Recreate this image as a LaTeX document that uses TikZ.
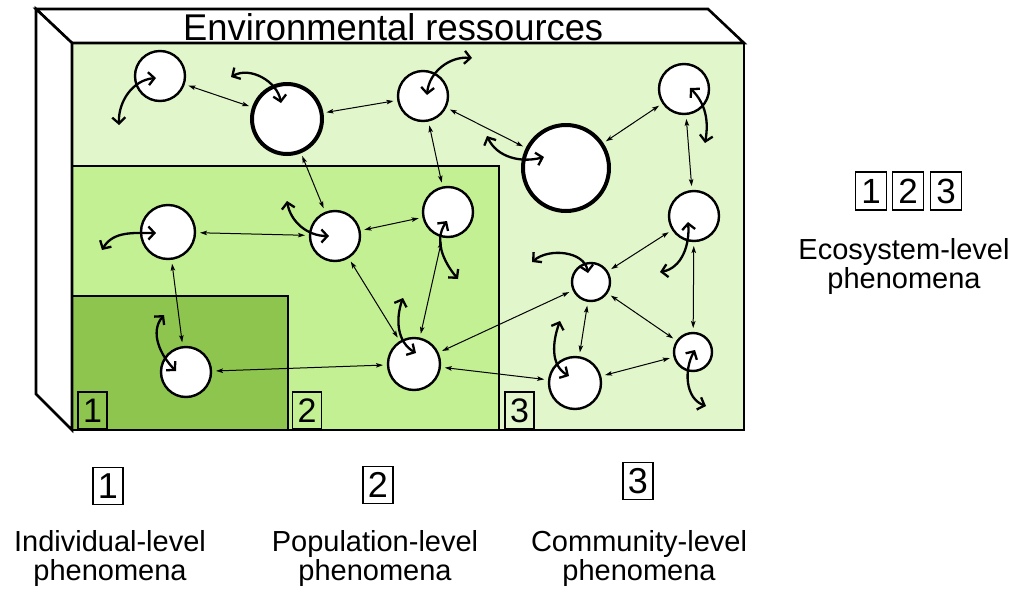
\documentclass[tikz,border=0pt]{standalone}
\usepackage{fontspec}
\setmainfont{Liberation Sans}
\usetikzlibrary{arrows.meta,calc}
\definecolor{gLight}{RGB}{225,246,202}
\definecolor{gMid}{RGB}{196,240,148}
\definecolor{gDark}{RGB}{141,197,79}
\begin{document}
\begin{tikzpicture}[x=1pt,y=-1pt,
  org/.style={circle,draw,fill=white,line width=2.4pt,inner sep=0pt,outer sep=0pt},
  bigorg/.style={org,line width=4pt},
  link/.style={{Stealth[length=7pt,width=4.5pt,inset=1.5pt]}-{Stealth[length=7pt,width=4.5pt,inset=1.5pt]},
    line width=1pt,shorten >=5pt,shorten <=5pt},
  move/.style={{Straight Barb[length=6pt,width=13pt]}-{Straight Barb[length=6pt,width=13pt]},line width=2.3pt},
  frame/.style={line width=2.6pt,line join=miter},
  numbox/.style={draw,line width=1.8pt,minimum width=30pt,minimum height=37pt,inner sep=0pt,
    font=\fontsize{36}{36}\selectfont},
  lab/.style={align=center,font=\fontsize{29}{28.5}\selectfont,inner sep=0pt}
]
\useasboundingbox (0,0) rectangle (1018,592);

% --- box ---
\fill[gLight] (72,43) rectangle (744,430);
\fill[gMid] (72,166) rectangle (499,430);
\fill[gDark] (72,296) rectangle (288,430);
\draw[frame,fill=white] (36,9) -- (708,9) -- (744,43) -- (72,43) -- cycle;
\draw[frame,fill=white] (36,9) -- (72,43) -- (72,430) -- (36,394) -- cycle;
\draw[frame] (72,43) rectangle (744,430);
\draw[frame] (72,166) -| (499,430);
\draw[frame] (72,296) -| (288,430);

\node[anchor=base west,inner sep=0pt] (title) at (183,40)
  {\resizebox{420pt}{27pt}{Environmental ressources}};

\node[numbox,minimum width=29pt,minimum height=37pt,font=\fontsize{34}{34}\selectfont] (in1) at (92.5,410.5) {1};
\node[numbox,minimum width=29pt,minimum height=37pt,font=\fontsize{34}{34}\selectfont] (in2) at (307,410.5) {2};
\node[numbox,minimum width=29pt,minimum height=37pt,font=\fontsize{34}{34}\selectfont] (in3) at (519.5,410.5) {3};

% --- organisms ---
\node[org,minimum size=50pt] (A) at (160,76) {};
\node[bigorg,minimum size=70pt] (B) at (287,119) {};
\node[org,minimum size=50pt] (C) at (423,96) {};
\node[bigorg,minimum size=86pt] (D) at (566,168) {};
\node[org,minimum size=50pt] (E) at (684,89) {};
\node[org,minimum size=50pt] (F) at (694,216) {};
\node[org,minimum size=50pt] (G) at (448,212) {};
\node[org,minimum size=54pt] (H) at (168,232) {};
\node[org,minimum size=50pt] (I) at (335,236) {};
\node[org,minimum size=50pt] (J) at (186,372) {};
\node[org,minimum size=52pt] (K) at (414,364) {};
\node[org,minimum size=38pt] (L) at (591,282) {};
\node[org,minimum size=52pt] (M) at (575,383) {};
\node[org,minimum size=38pt] (N) at (693,352) {};

% --- interactions ---
\draw[link] (A) -- (B);
\draw[link] (B) -- (C);
\draw[link] (C) -- (D);
\draw[link] (B) -- (I);
\draw[link] (C) -- (G);
\draw[link] (D) -- (E);
\draw[link] (E) -- (F);
\draw[link] (H) -- (I);
\draw[link] (I) -- (G);
\draw[link] (H) -- (J);
\draw[link] (G) -- (K);
\draw[link] (I) -- (K);
\draw[link] (J) -- (K);
\draw[link] (K) -- (L);
\draw[link] (K) -- (M);
\draw[link] (L) -- (F);
\draw[link] (F) -- (N);
\draw[link] (L) -- (N);
\draw[link] (L) -- (M);
\draw[link] (M) -- (N);

% --- movements ---
\coordinate (a1) at (119,125); \coordinate (a2) at (156,78);
\coordinate (b1) at (231,77);  \coordinate (b2) at (281,103);
\coordinate (c1) at (427,95);  \coordinate (c2) at (472,58);
\coordinate (d1) at (487,136); \coordinate (d2) at (544,157);
\coordinate (e1) at (690,88);  \coordinate (e2) at (705,143);
\coordinate (f1) at (688,222); \coordinate (f2) at (660,272);
\coordinate (g1) at (447,221); \coordinate (g2) at (458,279);
\coordinate (h1) at (102,250); \coordinate (h2) at (156,233);
\coordinate (i1) at (287,201); \coordinate (i2) at (329,236);
\coordinate (j1) at (164,315); \coordinate (j2) at (176,371);
\coordinate (k1) at (403,298); \coordinate (k2) at (416,353);
\coordinate (l1) at (532,262); \coordinate (l2) at (588,273);
\coordinate (m1) at (560,321); \coordinate (m2) at (569,376);
\coordinate (n1) at (695,350); \coordinate (n2) at (706,406);

\draw[move] (a1) to[out=92,in=185] (a2);
\draw[move] (b1) to[out=30,in=100] (b2);
\draw[move] (c1) to[out=85,in=175] (c2);
\draw[move] (d1) to[out=-65,in=195] (d2);
\draw[move] (e1) to[out=-45,in=80] (e2);
\draw[move] (f1) to[out=-85,in=10] (f2);
\draw[move] (g1) to[out=235,in=130] (g2);
\draw[move] (h1) to[out=60,in=180] (h2);
\draw[move] (i1) to[out=-80,in=180] (i2);
\draw[move] (j1) to[out=230,in=135] (j2);
\draw[move] (k1) to[out=250,in=150] (k2);
\draw[move] (l1) to[out=40,in=100] (l2);
\draw[move] (m1) to[out=250,in=150] (m2);
\draw[move] (n1) to[out=240,in=160] (n2);

% --- legend ---
\node[numbox] (b1l) at (108,486) {1};
\node[lab,anchor=base] (t1) at (110,580) {Individual-level\\phenomena};
\node[numbox] (b2l) at (378,485) {2};
\node[lab,anchor=base] (t2) at (375,580) {Population-level\\phenomena};
\node[numbox] (b3l) at (638,481) {3};
\node[lab,anchor=base] (t3) at (639,580) {Community-level\\phenomena};

\node[numbox,minimum width=31pt,minimum height=38pt,font=\fontsize{35}{35}\selectfont] (e1l) at (871,191) {1};
\node[numbox,minimum width=31pt,minimum height=38pt,font=\fontsize{35}{35}\selectfont] (e2l) at (908,191) {2};
\node[numbox,minimum width=31pt,minimum height=38pt,font=\fontsize{35}{35}\selectfont] (e3l) at (946,191) {3};
\node[lab,anchor=base] (t4) at (904,288) {Ecosystem-level\\phenomena};
\end{tikzpicture}
\end{document}
